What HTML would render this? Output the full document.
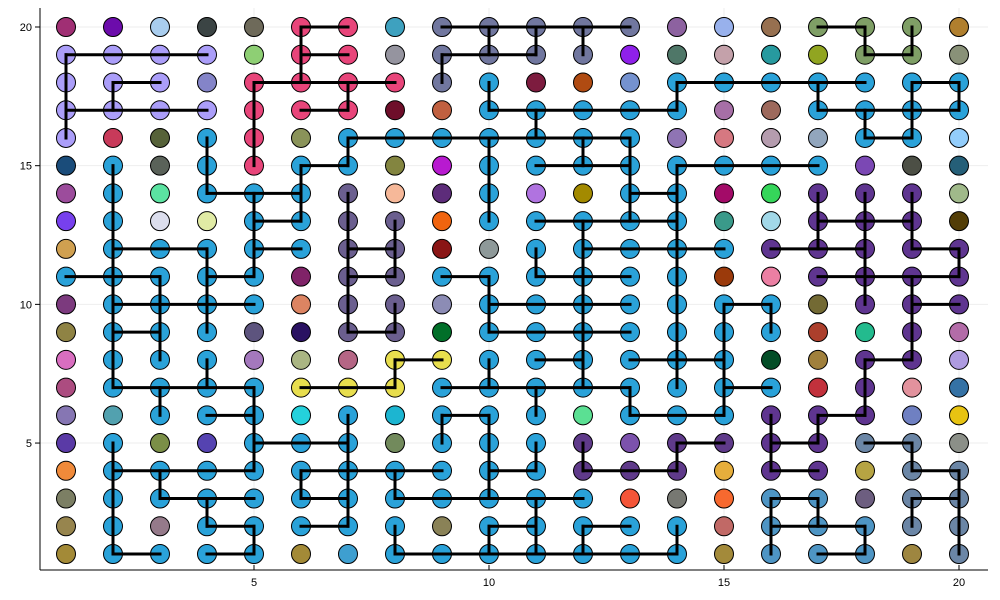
<!DOCTYPE html>
<html><head><meta charset="utf-8"><style>
html,body{margin:0;padding:0;background:#fff;}
svg{display:block;font-family:"Liberation Sans",sans-serif;}
</style></head><body>
<svg id="chart" width="1000" height="600" viewBox="0 0 1000 600" xmlns="http://www.w3.org/2000/svg">
<g id="grid"></g>
<g id="axes"></g>
<g id="dots"></g>
<g id="edges"></g>
</svg>
<script>
const xTicks = [5, 10, 15, 20];
const yTicks = [5, 10, 15, 20];
const palette = {B:"#2aa2d9",L:"#ab9ef9",P:"#e8457a",G:"#71779f",O:"#7f9f66",U:"#5f3590",V:"#5f3a8a",M:"#6b5f8f",Y:"#e8de4e",S:"#4e95c4",T:"#6b86a6"};
// rows from y=20 down to y=1, columns x=1..20
const colorRows = [
["#a02f74","#6c0cab","#a9cdee","#3b4444","#6e6a5a","P","P","#3ea1bf","G","G","G","G","G","#8d62a0","#98b1ec","#977050","O","O","O","#b07f2e"],
["L","L","L","L","#8ecf74","P","P","#95949f","G","G","G","G","#8f20ea","#4f7768","#c4a1aa","#279a9f","#91a521","O","O","#899178"],
["L","L","L","#8484c8","P","P","P","P","G","B","#7d1c3f","#b04b12","#7592cf","B","B","B","B","B","B","B"],
["L","L","L","L","P","P","P","#6e0e2a","#c06040","B","B","B","B","B","#a66fa6","#9d695c","B","B","B","B"],
["L","#c83a5a","#566239","B","P","#8a9359","B","B","B","B","B","B","B","#8f74b4","#d67881","#b59cae","#92a6bd","B","B","#93cdfb"],
["#1a4c7a","B","#5a6259","B","P","B","B","#838540","#b81ad0","B","B","B","B","B","B","B","B","#7b48b4","#4c4f45","#255f78"],
["#9c4c9c","B","#5be3a1","B","B","B","M","#f6b899","#5d2c7a","B","#b073e0","#a38a00","B","B","#a30b68","#35d65a","U","U","U","#a0b98a"],
["#7740ed","B","#dcdeed","#e1eba5","B","B","M","M","#f0640f","B","B","B","B","B","#3a9a8a","#a2d8e8","U","U","U","#523d06"],
["#d0a050","B","B","B","B","B","M","M","#8a1515","#8e9999","B","B","B","B","B","U","U","U","U","U"],
["B","B","B","B","B","#802368","M","M","B","B","B","B","B","B","#9b3a0b","#eb7fa3","U","U","U","U"],
["#7c3a7e","B","B","B","B","#dc8462","M","M","#8c8cb5","B","B","B","B","B","B","B","#736a34","U","U","U"],
["#8f8344","B","B","B","#5d547e","#2a1262","M","M","#016f29","B","B","B","B","B","B","B","#ac3f2c","#23bb8e","U","#b36ca8"],
["#d96ec0","B","B","B","#a478bd","#aab583","#b56685","Y","Y","B","B","B","B","B","B","#034d27","#a0803c","U","U","#ae9be0"],
["#ac4c80","B","B","B","B","Y","Y","Y","B","B","B","B","B","B","B","B","#c2313c","U","#e2929d","#3572a5"],
["#8676b3","#52a1af","B","B","B","#24d1dc","B","#1cb5d1","B","B","B","#5be093","B","B","B","U","U","U","#6f80c2","#e7c312"],
["#5a3aa6","B","#7b8f47","#5543b1","B","B","B","#728a5c","B","B","B","V","#7c52ac","V","V","U","U","T","T","#8b8f88"],
["#f08a3a","B","B","B","B","B","B","B","B","B","B","V","V","V","#e6ae3c","U","U","#b6a443","T","T"],
["#7c7f64","B","B","B","B","B","B","B","B","B","B","B","#f45538","#777872","#f7692f","S","S","#6d5e80","T","T"],
["#97854e","B","#957a8a","B","B","B","B","B","#8a8257","B","B","B","B","B","#c16966","S","S","S","T","T"],
["#a38a37","B","B","B","B","#a38a37","#3e9fd0","B","B","B","B","B","B","B","#a38a3a","S","S","S","#9e8640","T"]
];
const edgeList = [
[6,20,7,20],[6,20,6,18],[6,19,7,19],[1,19,4,19],[1,19,1,16],[2,18,3,18],[2,18,2,17],[1,17,4,17],
[5,18,8,18],[5,18,5,15],[7,18,7,17],[6,17,7,17],[7,16,13,16],[7,16,7,15],[6,15,7,15],[6,15,6,13],
[5,13,6,13],[4,16,4,14],[4,14,6,14],[5,14,5,11],[5,12,6,12],[4,11,5,11],[2,15,2,7],[2,12,4,12],
[4,12,4,9],[1,11,3,11],[3,11,3,8],[2,10,5,10],[2,9,3,9],[4,8,4,7],[2,7,5,7],[3,7,3,6],[4,6,5,6],
[5,7,5,4],[5,5,7,5],[2,5,2,1],[2,1,3,1],[2,4,5,4],[3,4,3,3],[3,3,5,3],[4,3,4,2],[4,2,5,2],[5,2,5,1],
[4,1,5,1],[6,4,9,4],[6,4,6,3],[6,3,7,3],[6,2,7,2],[7,6,7,2],[7,14,7,9],[7,9,8,9],[8,10,8,9],
[7,12,8,12],[7,11,8,11],[8,13,8,11],[8,8,9,8],[8,8,8,7],[6,7,8,7],[8,4,8,3],[8,3,12,3],
[9,20,13,20],[10,20,10,19],[11,20,11,19],[12,20,12,19],[9,19,11,19],[9,19,9,18],[10,18,10,17],
[10,17,14,17],[11,17,11,16],[14,18,14,17],[14,18,18,18],[10,16,10,13],[12,16,12,15],[11,15,13,15],
[13,16,13,13],[13,14,14,14],[11,13,14,13],[12,12,15,12],[11,12,11,11],[11,11,13,11],[9,11,10,11],
[10,11,10,9],[10,10,13,10],[10,9,13,9],[12,13,12,7],[11,8,12,8],[13,8,15,8],[10,8,10,7],[9,7,13,7],
[13,7,13,6],[13,6,15,6],[11,7,11,6],[9,6,10,6],[9,6,9,5],[10,6,10,3],[10,4,11,4],[11,5,11,4],
[11,3,11,1],[10,2,11,2],[10,2,10,1],[8,2,8,1],[8,1,14,1],[12,2,13,2],[12,2,12,1],[14,2,14,1],
[14,15,14,7],[14,15,17,15],[15,10,15,6],[15,10,16,10],[16,10,16,9],[15,7,16,7],
[12,5,12,4],[12,4,14,4],[14,5,15,5],[14,5,14,4],
[16,6,16,4],[16,5,17,5],[16,4,17,4],[17,6,17,5],[17,6,18,6],[18,8,18,6],[18,8,19,8],[19,11,19,8],
[19,10,20,10],[18,14,18,10],[17,14,17,12],[17,13,19,13],[19,14,19,12],[16,12,18,12],[19,12,20,12],
[20,12,20,11],[17,11,20,11],
[18,5,19,5],[19,5,19,4],[19,4,20,4],[20,4,20,1],[19,3,20,3],[19,3,19,2],
[16,3,17,3],[16,3,16,1],[17,3,17,2],[16,2,18,2],[18,2,18,1],[17,1,18,1],
[17,20,18,20],[18,20,18,19],[18,19,19,19],[19,19,19,20],
[19,18,20,18],[20,18,20,17],[17,18,17,17],[17,17,20,17],[19,18,19,16],[18,17,18,16],[18,16,19,16]
];
const NS = "http://www.w3.org/2000/svg";
const X0 = 40, X1 = 988, Y0 = 570, Y1 = 8;
function sx(v){ return 66 + (v - 1) * 47; }
function sy(v){ return 554 - (v - 1) * (527 / 19); }
function mk(tag, attrs, parent){
  const e = document.createElementNS(NS, tag);
  for (const k in attrs) e.setAttribute(k, attrs[k]);
  parent.appendChild(e);
  return e;
}
const gGrid = document.getElementById("grid");
const gAxes = document.getElementById("axes");
const gDots = document.getElementById("dots");
const gEdges = document.getElementById("edges");
xTicks.forEach(t => {
  const l = mk("line", {x1: sx(t), x2: sx(t), y1: Y1, y2: Y0, stroke: "#000", "stroke-opacity": 0.07, "stroke-width": 1}, gGrid);
  
  
  const tk = mk("line", {x1: sx(t), x2: sx(t), y1: Y0, y2: Y0 - 5, stroke: "#000", "stroke-width": 1}, gAxes);
  
  
  const tx = mk("text", {x: sx(t), y: Y0 + 16, "text-anchor": "middle", "font-size": 11, fill: "#000"}, gAxes);
  tx.textContent = t;
  
  
});
yTicks.forEach(t => {
  const l = mk("line", {x1: X0, x2: X1, y1: sy(t), y2: sy(t), stroke: "#000", "stroke-opacity": 0.07, "stroke-width": 1}, gGrid);
  
  
  const tk = mk("line", {x1: X0 - 5, x2: X0, y1: sy(t), y2: sy(t), stroke: "#000", "stroke-width": 1}, gAxes);
  
  
  const tx = mk("text", {x: X0 - 8, y: sy(t) + 4, "text-anchor": "end", "font-size": 11, fill: "#000"}, gAxes);
  tx.textContent = t;
  
  
});
const ax = mk("line", {x1: X0, x2: X1, y1: Y0, y2: Y0, stroke: "#000", "stroke-width": 1}, gAxes);


const ay = mk("line", {x1: X0, x2: X0, y1: Y1, y2: Y0, stroke: "#000", "stroke-width": 1}, gAxes);


colorRows.forEach((row, ri) => {
  const yv = 20 - ri;
  row.forEach((c, ci) => {
    const xv = ci + 1;
    const col = palette[c] || c;
    const d = mk("circle", {cx: sx(xv), cy: sy(yv), r: 9.5, fill: col, stroke: "#000", "stroke-width": 1}, gDots);
    
    
  });
});
edgeList.forEach(e => {
  const l = mk("line", {x1: sx(e[0]), y1: sy(e[1]), x2: sx(e[2]), y2: sy(e[3]), stroke: "#000", "stroke-width": 3, "stroke-linecap": "square"}, gEdges);
  
  
});
</script>
</body></html>
